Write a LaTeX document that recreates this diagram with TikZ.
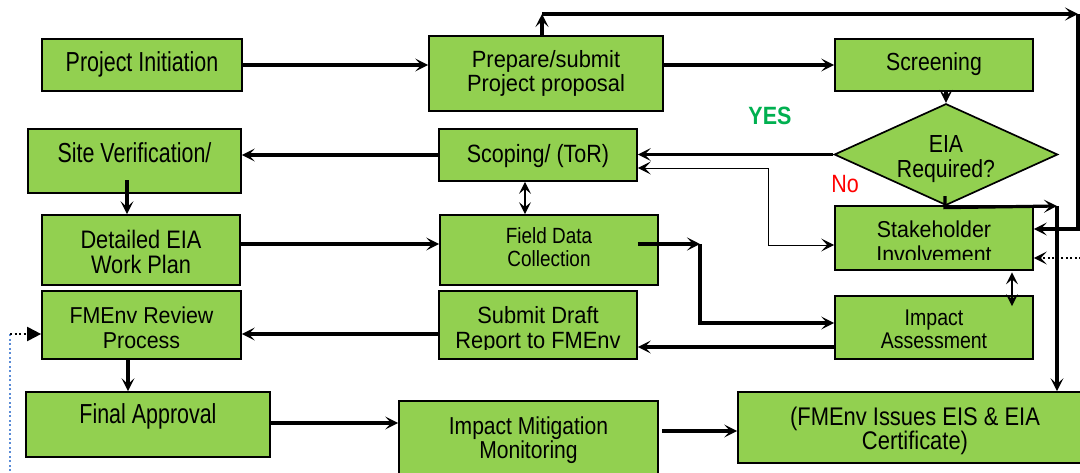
\documentclass[tikz,border=0pt]{standalone}
\usepackage{fontspec}
\setmainfont{Liberation Sans}[FakeStretch=0.86]
% three widths of the same sans face
\newfontfamily\fA{Liberation Sans}[FakeStretch=0.78]
\newfontfamily\fB{Liberation Sans}[FakeStretch=0.86]
\newfontfamily\fC{Liberation Sans}[FakeStretch=0.93]
\usetikzlibrary{arrows.meta,calc,shapes.geometric}
\definecolor{boxgreen}{RGB}{146,208,80}
\definecolor{yesgreen}{RGB}{0,176,80}
\definecolor{dotblue}{RGB}{91,140,214}
% struts that fix the height of a first line and the depth of a last line
\newcommand\tophgt[1]{\rule{0pt}{#1}}
\newcommand\botdep[1]{\rule[-#1]{0pt}{0pt}}
\tikzset{
  txt/.style={inner sep=0pt, align=center, font=\fB\fontsize{25}{25}\selectfont},
  box/.style={txt, draw=black, line width=1.7pt, fill=boxgreen},
  decision/.style={txt, diamond, draw=black, line width=1.7pt, fill=boxgreen, shape aspect=2.2},
  tip/.style={-{Stealth[length=13pt,width=13pt,inset=6pt]}},
  conn/.style={tip, line width=3.2pt},
  thinconn/.style={{Stealth[length=13pt,width=13pt,inset=6pt]}-{Stealth[length=13pt,width=13pt,inset=6pt]}, line width=1pt},
  midconn/.style={{Stealth[length=12pt,width=12pt,inset=5pt]}-{Stealth[length=12pt,width=12pt,inset=5pt]}},
  dotconn/.style={tip, line width=2pt, dash pattern=on 2pt off 2.5pt},
  bluedot/.style={draw=dotblue, line width=2pt, dash pattern=on 2pt off 2.5pt},
}
\begin{document}
\begin{tikzpicture}[x=1pt,y=-1pt]
\path[use as bounding box] (0,0) rectangle (1080,472);
\clip (0,0) rectangle (1080,472);

% ---- process boxes ----
\node[box, font=\fA\fontsize{27.5}{25}\selectfont, minimum width=200pt, minimum height=52pt,
      text height=20pt, text depth=7.4pt] (pi) at (142,65) {Project Initiation};
\node[box, font=\fC\fontsize{23.5}{23.3}\selectfont, minimum width=234pt, minimum height=75pt] (prep) at (546,73.5)
     {\tophgt{19.7pt}Prepare/submit\\Project proposal\botdep{8pt}};
\node[box, font=\fB\fontsize{24.7}{25}\selectfont, minimum width=198pt, minimum height=52pt,
      text height=18pt, text depth=6.6pt] (scr) at (934,65) {Screening};
\node[decision, font=\fB\fontsize{24.7}{25}\selectfont, minimum width=222pt, minimum height=101pt] (eia) at (946,154.5)
     {\tophgt{26pt}EIA\\Required?\botdep{6pt}};

\node[box, font=\fA\fontsize{27.5}{25}\selectfont, minimum width=213pt, minimum height=64pt,
      text height=20pt, text depth=17.4pt] (site) at (134.5,161) {Site Verification/};
\node[box, font=\fB\fontsize{25}{25}\selectfont, minimum width=198pt, minimum height=52pt,
      text height=20pt, text depth=6pt] (scope) at (538,155) {Scoping/ (ToR)};

\node[box, font=\fB\fontsize{25.3}{25}\selectfont, minimum width=198pt, minimum height=70pt] (det) at (141,250)
     {\tophgt{27pt}Detailed EIA\\Work Plan\botdep{6pt}};
\node[box, font=\fB\fontsize{22}{23.4}\selectfont, minimum width=218pt, minimum height=70pt] (field) at (549,250)
     {\tophgt{18pt}Field Data\\Collection\botdep{8pt}};
\node[box, minimum width=198pt, minimum height=64pt] (stake) at (934,238) {};
\begin{scope}
  \clip (835,206) rectangle (1033,259.5);
  \node[txt, font=\fC\fontsize{23}{25.3}\selectfont] (staketxt) at (934,238)
       {\tophgt{30.3pt}Stakeholder\\Involvement\botdep{6pt}};
\end{scope}

\node[box, font=\fC\fontsize{23}{25}\selectfont, minimum width=199pt, minimum height=68pt] (fmrev) at (141.5,325)
     {\tophgt{27.6pt}FMEnv Review\\Process\botdep{6pt}};
\node[box, minimum width=198pt, minimum height=68pt] (sub) at (538,325) {};
\begin{scope}
  \clip (439,291) rectangle (637,349);
  \node[txt, font=\fC\fontsize{23.5}{25}\selectfont] (subtxt) at (538,325)
       {\tophgt{28pt}Submit Draft\\Report to FMEnv\botdep{6pt}};
\end{scope}
\node[box, font=\fB\fontsize{22.7}{23.3}\selectfont, minimum width=198pt, minimum height=63pt] (ia) at (934,327.5)
     {\tophgt{24.3pt}Impact\\Assessment\botdep{6pt}};

\node[box, font=\fA\fontsize{27.5}{25}\selectfont, minimum width=244pt, minimum height=65pt,
      text height=20pt, text depth=22.4pt] (fin) at (148,424.5) {Final Approval};
\node[box, font=\fB\fontsize{24.5}{24}\selectfont, minimum width=259pt, minimum height=75pt] (mit) at (528.5,438.5)
     {\tophgt{21pt}Impact Mitigation\\Monitoring\botdep{6pt}};
\node[box, font=\fB\fontsize{25.5}{24}\selectfont, minimum width=354pt, minimum height=71pt] (iss) at (915,427.5)
     {\tophgt{26pt}(FMEnv Issues EIS \& EIA\\Certificate)\botdep{6pt}};

% ---- decision labels ----
\node[txt, font=\fB\bfseries\fontsize{25}{25}\selectfont, text=yesgreen] (yes) at (770,116) {YES};
\node[txt, text=red] (no) at (845,184) {No};

% ---- helper points for routed connectors ----
\coordinate (sd) at (127,180);
\coordinate (fj) at (700,244);
\coordinate (fk) at (700,323);
\coordinate (nr) at (1057,206);
\coordinate (t1) at (542,14);
\coordinate (t2) at (1078,14);
\coordinate (t3) at (1078,229);
\coordinate (c1) at (768,168);
\coordinate (c2) at (768,245);
\coordinate (dr) at (1090,258);
\coordinate (lb) at (10,480);
\coordinate (lt) at (10,334);

% ---- main flow ----
\draw[conn] (pi.east) -- (pi.east -| prep.west);
\draw[conn] (prep.east |- scr.west) -- (scr.west);
\draw[conn] (scr.south -| eia.north) -- (eia.north);
\draw[conn] (eia.west) -- (eia.west -| scope.east);
\draw[conn] (scope.west) -- (scope.west -| site.east);
\draw[conn] (sd) -- (sd |- det.north);
\draw[conn] (det.east |- 0,244) -- (field.west |- 0,244);
\draw[conn] ($(field.east |- fj)+(-21,0)$) -- (fj);
\draw[conn] (fj) -- (fk) -- (fk -| ia.west);
\draw[conn] (ia.west |- 0,347) -- (sub.east |- 0,347);
\draw[conn] (sub.west |- 0,334) -- (fmrev.east |- 0,334);
\draw[conn] (fmrev.south -| 128,0) -- (fin.north -| 128,0);
\draw[conn] (fin.east |- 0,423) -- (mit.west |- 0,423);
\draw[conn] ($(mit.east |- 0,431)+(3,0)$) -- (iss.west |- 0,431);

% ---- "No" branch ----
\draw[conn] ($(eia.south)+(-1,-10)$) -- ($(eia.south)+(-1,1.5)$) -- (nr);
\draw[conn] (nr) -- (nr |- iss.north);

% ---- loop over the top ----
\draw[conn] (t1 |- prep.north) -- (t1);
\draw[conn] (t1) -- (t2);
\draw[conn] (t2) -- (t3) -- (t3 -| stake.east);

% ---- two-way links ----
\draw[thinconn] (c1 -| scope.east) -- (c1) -- (c2) -- (c2 -| stake.west);
\draw[midconn, line width=1.3pt] (scope.south -| 525,0) -- (field.north -| 525,0);
\draw[midconn, line width=2pt] ($(stake.south -| 1012,0)+(0,1.5)$) -- ($(ia.north -| 1012,0)+(0,11)$);

% ---- dotted feedback lines ----
\draw[dotconn] (dr) -- (dr -| stake.east);
\draw[bluedot] (lb) -- (lt);
\draw[line width=2pt, dash pattern=on 2pt off 2.5pt, -{Triangle[length=14pt,width=14pt]}] (lt) -- (lt -| fmrev.west);
\end{tikzpicture}
\end{document}
